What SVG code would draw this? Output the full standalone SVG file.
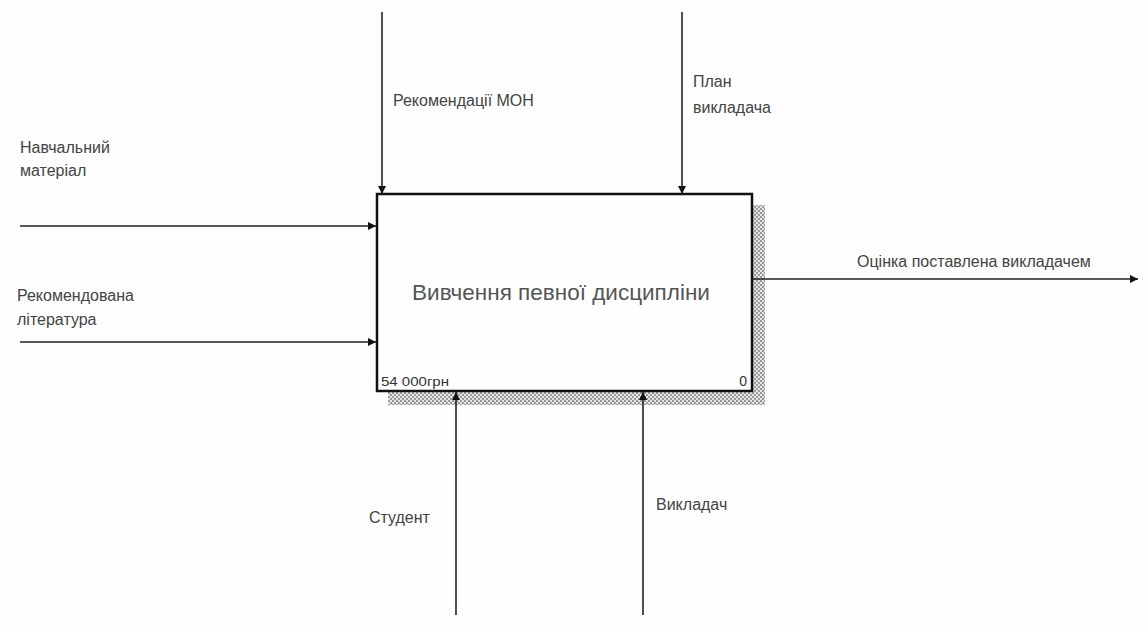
<svg xmlns="http://www.w3.org/2000/svg" width="1146" height="630" viewBox="0 0 1146 630">
<defs>
<style>
.lbl{font-family:"Liberation Sans",Arial,sans-serif;font-size:16px;fill:#444}
.ln{stroke:#222;stroke-width:1.6;fill:none}
</style>
<marker id="ah" viewBox="0 0 10 10" refX="10" refY="5" markerWidth="8" markerHeight="8" markerUnits="userSpaceOnUse" orient="auto">
<path d="M0,0 L10,5 L0,10 z" fill="#111"/>
</marker>
<pattern id="hatch" width="4" height="4" patternUnits="userSpaceOnUse">
<rect width="4" height="4" fill="#e6e6e6"/>
<rect width="2" height="2" fill="#999"/>
<rect x="2" y="2" width="2" height="2" fill="#999"/>
</pattern>
</defs>
<rect width="1146" height="630" fill="#fdfdfd"/>
<g id="node-A0">
<rect x="753" y="205" width="12" height="200" fill="url(#hatch)"/>
<rect x="388" y="392" width="377" height="13" fill="url(#hatch)"/>
<rect x="377" y="194" width="375" height="197" fill="#fefefe" stroke="#111" stroke-width="2.5"/>
<text x="561" y="300" text-anchor="middle" font-family="'Liberation Sans',Arial,sans-serif" font-size="22.5" fill="#555">Вивчення певної дисципліни</text>
<text x="381" y="386" font-family="'Liberation Sans',Arial,sans-serif" font-size="13" fill="#333" textLength="68" lengthAdjust="spacingAndGlyphs">54 000грн</text>
<text x="747" y="386" text-anchor="end" font-family="'Liberation Sans',Arial,sans-serif" font-size="14" fill="#333">0</text>
</g>
<g id="connectors">
<line class="ln" x1="382" y1="12" x2="382" y2="194" marker-end="url(#ah)"/>
<line class="ln" x1="682" y1="12" x2="682" y2="194" marker-end="url(#ah)"/>
<line class="ln" x1="20" y1="226" x2="376" y2="226" marker-end="url(#ah)"/>
<line class="ln" x1="20" y1="342" x2="376" y2="342" marker-end="url(#ah)"/>
<line class="ln" x1="456" y1="615" x2="456" y2="392" marker-end="url(#ah)"/>
<line class="ln" x1="643" y1="615" x2="643" y2="392" marker-end="url(#ah)"/>
<line class="ln" x1="753" y1="279" x2="1138" y2="279" marker-end="url(#ah)"/>
</g>
<g id="labels">
<text class="lbl" x="20" y="153">Навчальний</text>
<text class="lbl" x="20" y="176">матеріал</text>
<text class="lbl" x="17" y="301">Рекомендована</text>
<text class="lbl" x="17" y="325">література</text>
<text class="lbl" x="393" y="106">Рекомендації МОН</text>
<text class="lbl" x="693" y="87">План</text>
<text class="lbl" x="693" y="113">викладача</text>
<text class="lbl" x="857" y="267">Оцінка поставлена викладачем</text>
<text class="lbl" x="369" y="523">Студент</text>
<text class="lbl" x="656" y="510">Викладач</text>
</g>
</svg>
